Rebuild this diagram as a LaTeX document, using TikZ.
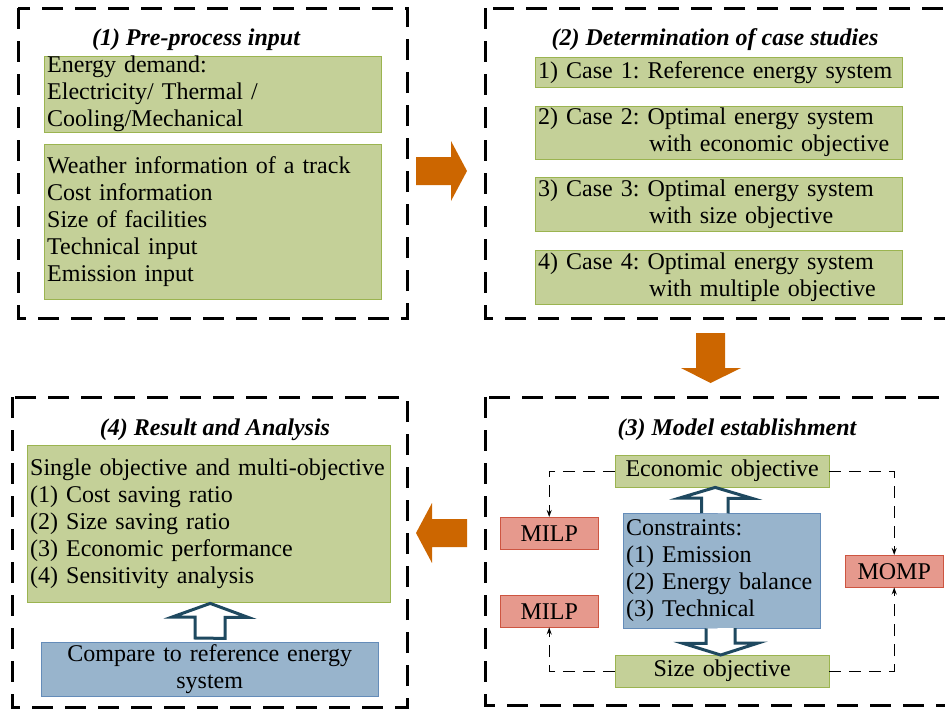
\documentclass[tikz,border=0pt]{standalone}
\usepackage{fontspec}
\setmainfont{Liberation Serif}
\frenchspacing
\usetikzlibrary{positioning,calc,arrows.meta}
\definecolor{gfill}{RGB}{196,208,152}
\definecolor{gline}{RGB}{155,180,80}
\definecolor{bfill}{RGB}{152,180,204}
\definecolor{bline}{RGB}{100,140,185}
\definecolor{rfill}{RGB}{230,153,141}
\definecolor{rline}{RGB}{205,85,65}
\definecolor{oarrow}{RGB}{204,102,0}
\definecolor{tarrow}{RGB}{31,73,96}
\tikzset{
  group/.style={draw,line width=3pt,dash pattern=on 21pt off 12pt},
  title/.style={anchor=base,font=\fontsize{24}{27}\selectfont\bfseries\itshape},
  gbox/.style={draw=gline,fill=gfill,anchor=north west,inner xsep=3pt,inner ysep=0pt,align=left},
  bbox/.style={draw=bline,fill=bfill,anchor=north west,inner xsep=3pt,inner ysep=0pt},
  rbox/.style={draw=rline,fill=rfill,anchor=north west,inner sep=0pt,minimum width=98pt,minimum height=32pt},
  flow/.style={fill=oarrow},
  hollow/.style={draw=tarrow,line width=3pt,fill=white,line join=miter},
  link/.style={line width=1.4pt,dash pattern=on 12pt off 8pt,-{Stealth[length=7pt,width=5pt]}}
}
\begin{document}
\begin{tikzpicture}[x=1pt,y=-1pt,font=\fontsize{24}{27}\selectfont]
  \useasboundingbox (0,0) rectangle (945,712);
  \clip (0,0) rectangle (945,712);
  % frames of the four steps
  \draw[group] (18,8) rectangle (407,318);
  \draw[group] (485,8) rectangle (965,318);
  \draw[group] (485,397) rectangle (965,705);
  \draw[group] (12,397) rectangle (407,707);
  % (1) input
  \node[title] (t1) at (196,45) {(1) Pre-process input};
  \node[gbox,text width=331pt,minimum height=76pt] (demand) at (44,56)
    {Energy demand:\\Electricity/ Thermal /\\Cooling/Mechanical};
  \node[gbox,text width=331pt,minimum height=155pt] (info) at (44,144)
    {Weather information of a track\\Cost information\\Size of facilities\\Technical input\\Emission input};
  % (2) cases
  \node[title] (t2) at (715,45) {(2) Determination of case studies};
  \node[gbox,text width=361pt,minimum height=30pt] (case1) at (535,57)
    {1) Case 1: Reference energy system};
  \node[gbox,text width=361pt,minimum height=53pt] (case2) at (535,106)
    {2) Case 2: Optimal energy system\\\hspace*{111pt}with economic objective};
  \node[gbox,text width=361pt,minimum height=54pt] (case3) at (535,177)
    {3) Case 3: Optimal energy system\\\hspace*{111pt}with size objective};
  \node[gbox,text width=361pt,minimum height=54pt] (case4) at (535,250)
    {4) Case 4: Optimal energy system\\\hspace*{111pt}with multiple objective};
  % (3) model
  \node[title] (t3) at (737,435) {(3) Model establishment};
  \node[gbox,text width=208pt,minimum height=32pt,align=center] (eco) at (615,455) {Economic objective};
  \node[gbox,text width=208pt,minimum height=32pt,align=center] (size) at (615,655) {Size objective};
  \node[bbox,text width=191pt,minimum height=115pt,align=left] (cons) at (623,513)
    {Constraints:\\(1) Emission\\(2) Energy balance\\(3) Technical};
  \node[rbox] (milp1) at (500,517) {MILP};
  \node[rbox] (milp2) at (500,595) {MILP};
  \node[rbox] (momp) at (845,555) {MOMP};
  \draw[hollow] ($(cons.north)+(-20,0)$) -- ++(0,-15) -- ++(-22,0) -- ($(eco.south)+(-7,0)$)
    -- ++(37,11) -- ++(-24,0) -- ++(0,15);
  \draw[hollow] ($(cons.south)+(-15.5,0)$) -- ++(0,15) -- ++(-23,0) -- ($(size.north)+(-1.5,0)$)
    -- ++(37.5,-12) -- ++(-23,0) -- ++(0,-15);
  \draw[link] (eco.west) -| (milp1.north);
  \draw[link] (eco.east) -| (momp.north);
  \draw[link] (size.west) -| (milp2.south);
  \draw[link] (size.east) -| (momp.south);
  % (4) results
  \node[title] (t4) at (215,435) {(4) Result and Analysis};
  \node[gbox,text width=357pt,minimum height=157pt] (res) at (27,445)
    {Single objective and multi-objective\\(1) Cost saving ratio\\(2) Size saving ratio\\(3) Economic performance\\(4) Sensitivity analysis};
  \node[bbox,text width=331pt,minimum height=54pt,align=center] (cmp) at (41,642)
    {Compare to reference energy\\system};
  \draw[hollow] ($(cmp.north)+(-14.5,-4)$) -- ++(0,-21) -- ++(-23,0) -- ($(res.south)+(1.5,1)$)
    -- ++(38,14) -- ++(-23,0) -- ++(0,21) -- cycle;
  % flow between the steps
  \fill[flow] (416,157) -- (451,157) -- (451,141) -- (467,171) -- (451,201) -- (451,185) -- (416,185) -- cycle;
  \fill[flow] (696,333) -- (725,333) -- (725,368) -- (741,368) -- (710.5,383) -- (681,368) -- (696,368) -- cycle;
  \fill[flow] (467,519) -- (432,519) -- (432,503) -- (416,533) -- (432,563) -- (432,547) -- (467,547) -- cycle;
\end{tikzpicture}
\end{document}
